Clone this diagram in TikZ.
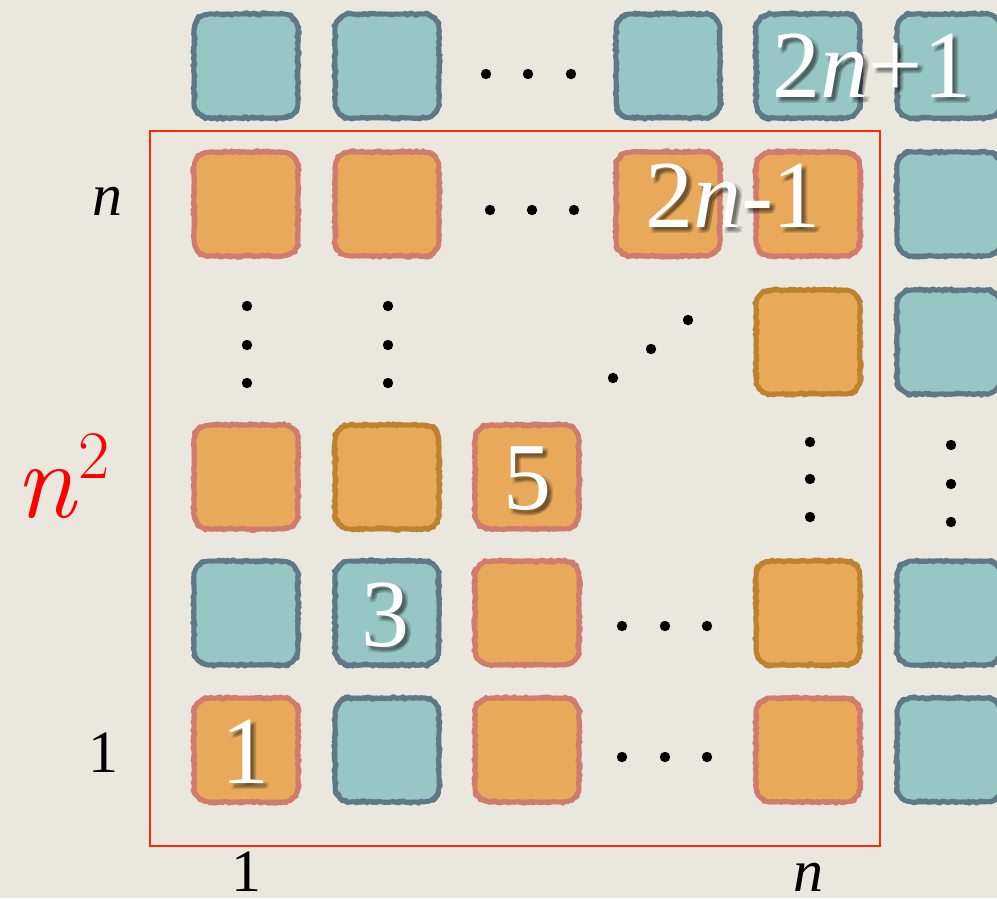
\documentclass[tikz,border=0pt]{standalone}
\usepackage{fontspec}
\newfontfamily\tms{Liberation Serif}
\usetikzlibrary{decorations.pathmorphing}
\definecolor{bg}{HTML}{EAE7DE}
\definecolor{tealfill}{HTML}{97C7C4}
\definecolor{tealedge}{HTML}{5E7985}
\definecolor{orfill}{HTML}{E8AA5A}
\definecolor{saledge}{HTML}{D07B6C}
\definecolor{goldedge}{HTML}{BE812E}
\definecolor{frame}{HTML}{FF2A05}
\tikzset{
  roughline/.style={decorate, decoration={random steps, segment length=2pt, amplitude=1.6pt}, line width=4.4pt, line join=round},
  roughthin/.style={decorate, decoration={random steps, segment length=1.6pt, amplitude=1.3pt}, line width=2.6pt, line join=round},
  plainedge/.style={line width=4.6pt},
  blacklab/.style={font=\fontsize{60}{60}\selectfont\tms, anchor=base, inner sep=0pt},
  whitelab/.style={font=\fontsize{96}{96}\selectfont\tms, anchor=base, inner sep=0pt, text=white},
  shadowlab/.style={font=\fontsize{96}{96}\selectfont\tms, anchor=base, inner sep=0pt, text=black, text opacity=0.13},
  dotmark/.style={fill=black},
}
\newcommand\tilepath{(52pt,-37pt) -- (52pt,37pt) arc[start angle=0,end angle=90,radius=15pt] -- (-37pt,52pt) arc[start angle=90,end angle=180,radius=15pt] -- (-52pt,-37pt) arc[start angle=180,end angle=270,radius=15pt] -- (37pt,-52pt) arc[start angle=270,end angle=360,radius=15pt] -- cycle}
% name, x, y, fill, edge
\newcommand\tile[5]{%
  \coordinate (#1) at (#2,#3);
  \begin{scope}[shift={(#1)}]
    \fill[#4] \tilepath;
    \draw[plainedge,#5] \tilepath;
    \draw[roughline,#5] \tilepath;
    \draw[roughthin,#5] \tilepath;
  \end{scope}}
% soft shadow as several overlapping copies inside one node
\newcommand\shadowtext[1]{\rlap{\kern-1pt\raisebox{1pt}{#1}}\rlap{\kern1pt\raisebox{-1pt}{#1}}\rlap{\kern-2pt\raisebox{-2pt}{#1}}\rlap{\kern2pt\raisebox{2pt}{#1}}#1}
% name, x, baseline y, text
\newcommand\wlabel[4]{%
  \node[shadowlab, xshift=4pt, yshift=-4pt] (#1s) at (#2,#3) {\shadowtext{#4}};
  \node[whitelab] (#1) at (#2,#3) {#4};}
\newcommand\dotat[2]{\fill[dotmark] (#1,#2) circle[radius=5.2pt];}
\begin{document}
\begin{tikzpicture}[x=1pt,y=-1pt]
\pgfmathsetseed{7}
\useasboundingbox (0,0) rectangle (997,898);
\clip (0,0) rectangle (997,898);
\fill[bg] (0,0) rectangle (997,898);

% row 6 (top)
\tile{a1}{246}{66}{tealfill}{tealedge}
\tile{a2}{387}{66}{tealfill}{tealedge}
\tile{a4}{668}{66}{tealfill}{tealedge}
\tile{a5}{808}{66}{tealfill}{tealedge}
\tile{a6}{949}{66}{tealfill}{tealedge}
% row 5 (n)
\tile{b1}{246}{204}{orfill}{saledge}
\tile{b2}{387}{204}{orfill}{saledge}
\tile{b4}{668}{204}{orfill}{saledge}
\tile{b5}{808}{204}{orfill}{saledge}
\tile{b6}{949}{204}{tealfill}{tealedge}
% row 4
\tile{c5}{808}{342}{orfill}{goldedge}
\tile{c6}{949}{342}{tealfill}{tealedge}
% row 3
\tile{d1}{246}{477}{orfill}{saledge}
\tile{d2}{387}{477}{orfill}{goldedge}
\tile{d3}{527}{477}{orfill}{saledge}
% row 2
\tile{e1}{246}{613}{tealfill}{tealedge}
\tile{e2}{387}{613}{tealfill}{tealedge}
\tile{e3}{527}{613}{orfill}{saledge}
\tile{e5}{808}{613}{orfill}{goldedge}
\tile{e6}{949}{613}{tealfill}{tealedge}
% row 1
\tile{f1}{246}{750}{orfill}{saledge}
\tile{f2}{387}{750}{tealfill}{tealedge}
\tile{f3}{527}{750}{orfill}{saledge}
\tile{f5}{808}{750}{orfill}{saledge}
\tile{f6}{949}{750}{tealfill}{tealedge}

% red frame
\draw[frame, line width=2.4pt] (150,131) rectangle (880,846);

% dots
\dotat{486}{74}\dotat{528}{74}\dotat{571}{74}
\dotat{490}{210}\dotat{532}{210}\dotat{574}{210}
\dotat{247}{306}\dotat{247}{345}\dotat{247}{383}
\dotat{388}{306}\dotat{388}{345}\dotat{388}{383}
\dotat{613}{378}\dotat{651}{349}\dotat{688}{320}
\dotat{810}{442}\dotat{810}{479}\dotat{810}{517}
\dotat{951}{445}\dotat{951}{484}\dotat{951}{522}
\dotat{622}{626}\dotat{665}{626}\dotat{707}{626}
\dotat{622}{757}\dotat{665}{757}\dotat{707}{757}

% white labels
\wlabel{l2np1}{872}{97}{2\textit{n}+1}
\wlabel{l2nm1}{733}{227}{2\textit{n}-1}
\wlabel{l1}{245}{783}{1}
\wlabel{l3}{385}{646}{3}
\wlabel{l5}{527}{509}{5}

% black axis labels
\node[blacklab] (yn) at (107,215) {\textit{n}};
\node[blacklab] (y1) at (103,772) {1};
\node[blacklab] (x1) at (246,891) {1};
\node[blacklab] (xn) at (808,891) {\textit{n}};

% n^2
\node[anchor=base, inner sep=0pt, text=red, font=\fontsize{109}{109}\selectfont\itshape] (nsq) at (45,517) {n};
\node[anchor=base, inner sep=0pt, text=red, font=\fontsize{68}{68}\selectfont] (nsq2) at (94,478) {2};
\end{tikzpicture}
\end{document}
